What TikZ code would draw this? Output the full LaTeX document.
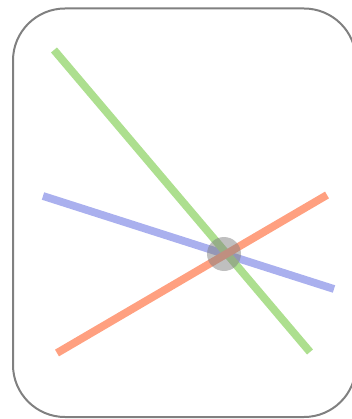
\documentclass[tikz,border=0pt]{standalone}
\begin{document}
\begin{tikzpicture}[x=1pt,y=-1pt,
  frame/.style={draw={rgb,255:red,128;green,128;blue,128},line width=2pt,rounded corners=52pt},
  ray/.style={line width=7.8pt}]
\definecolor{cgreen}{RGB}{173,223,143}
\definecolor{cblue}{RGB}{170,176,238}
\definecolor{corange}{RGB}{255,160,128}
\useasboundingbox (0,0) rectangle (352,419);
\draw[frame] (13,8.5) rectangle (356,417);
\coordinate (b1) at (43,196);
\coordinate (b2) at (334,289);
\coordinate (g1) at (54,50);
\coordinate (g2) at (310,352);
\coordinate (o1) at (57,353);
\coordinate (o2) at (327,195);
\coordinate (c) at (224,254);
\draw[ray,cblue] (b1) -- (b2);
\draw[ray,cgreen] (g1) -- (g2);
\draw[ray,corange] (o1) -- (o2);
\fill[gray,opacity=0.5] (c) circle (17pt);
\end{tikzpicture}
\end{document}
